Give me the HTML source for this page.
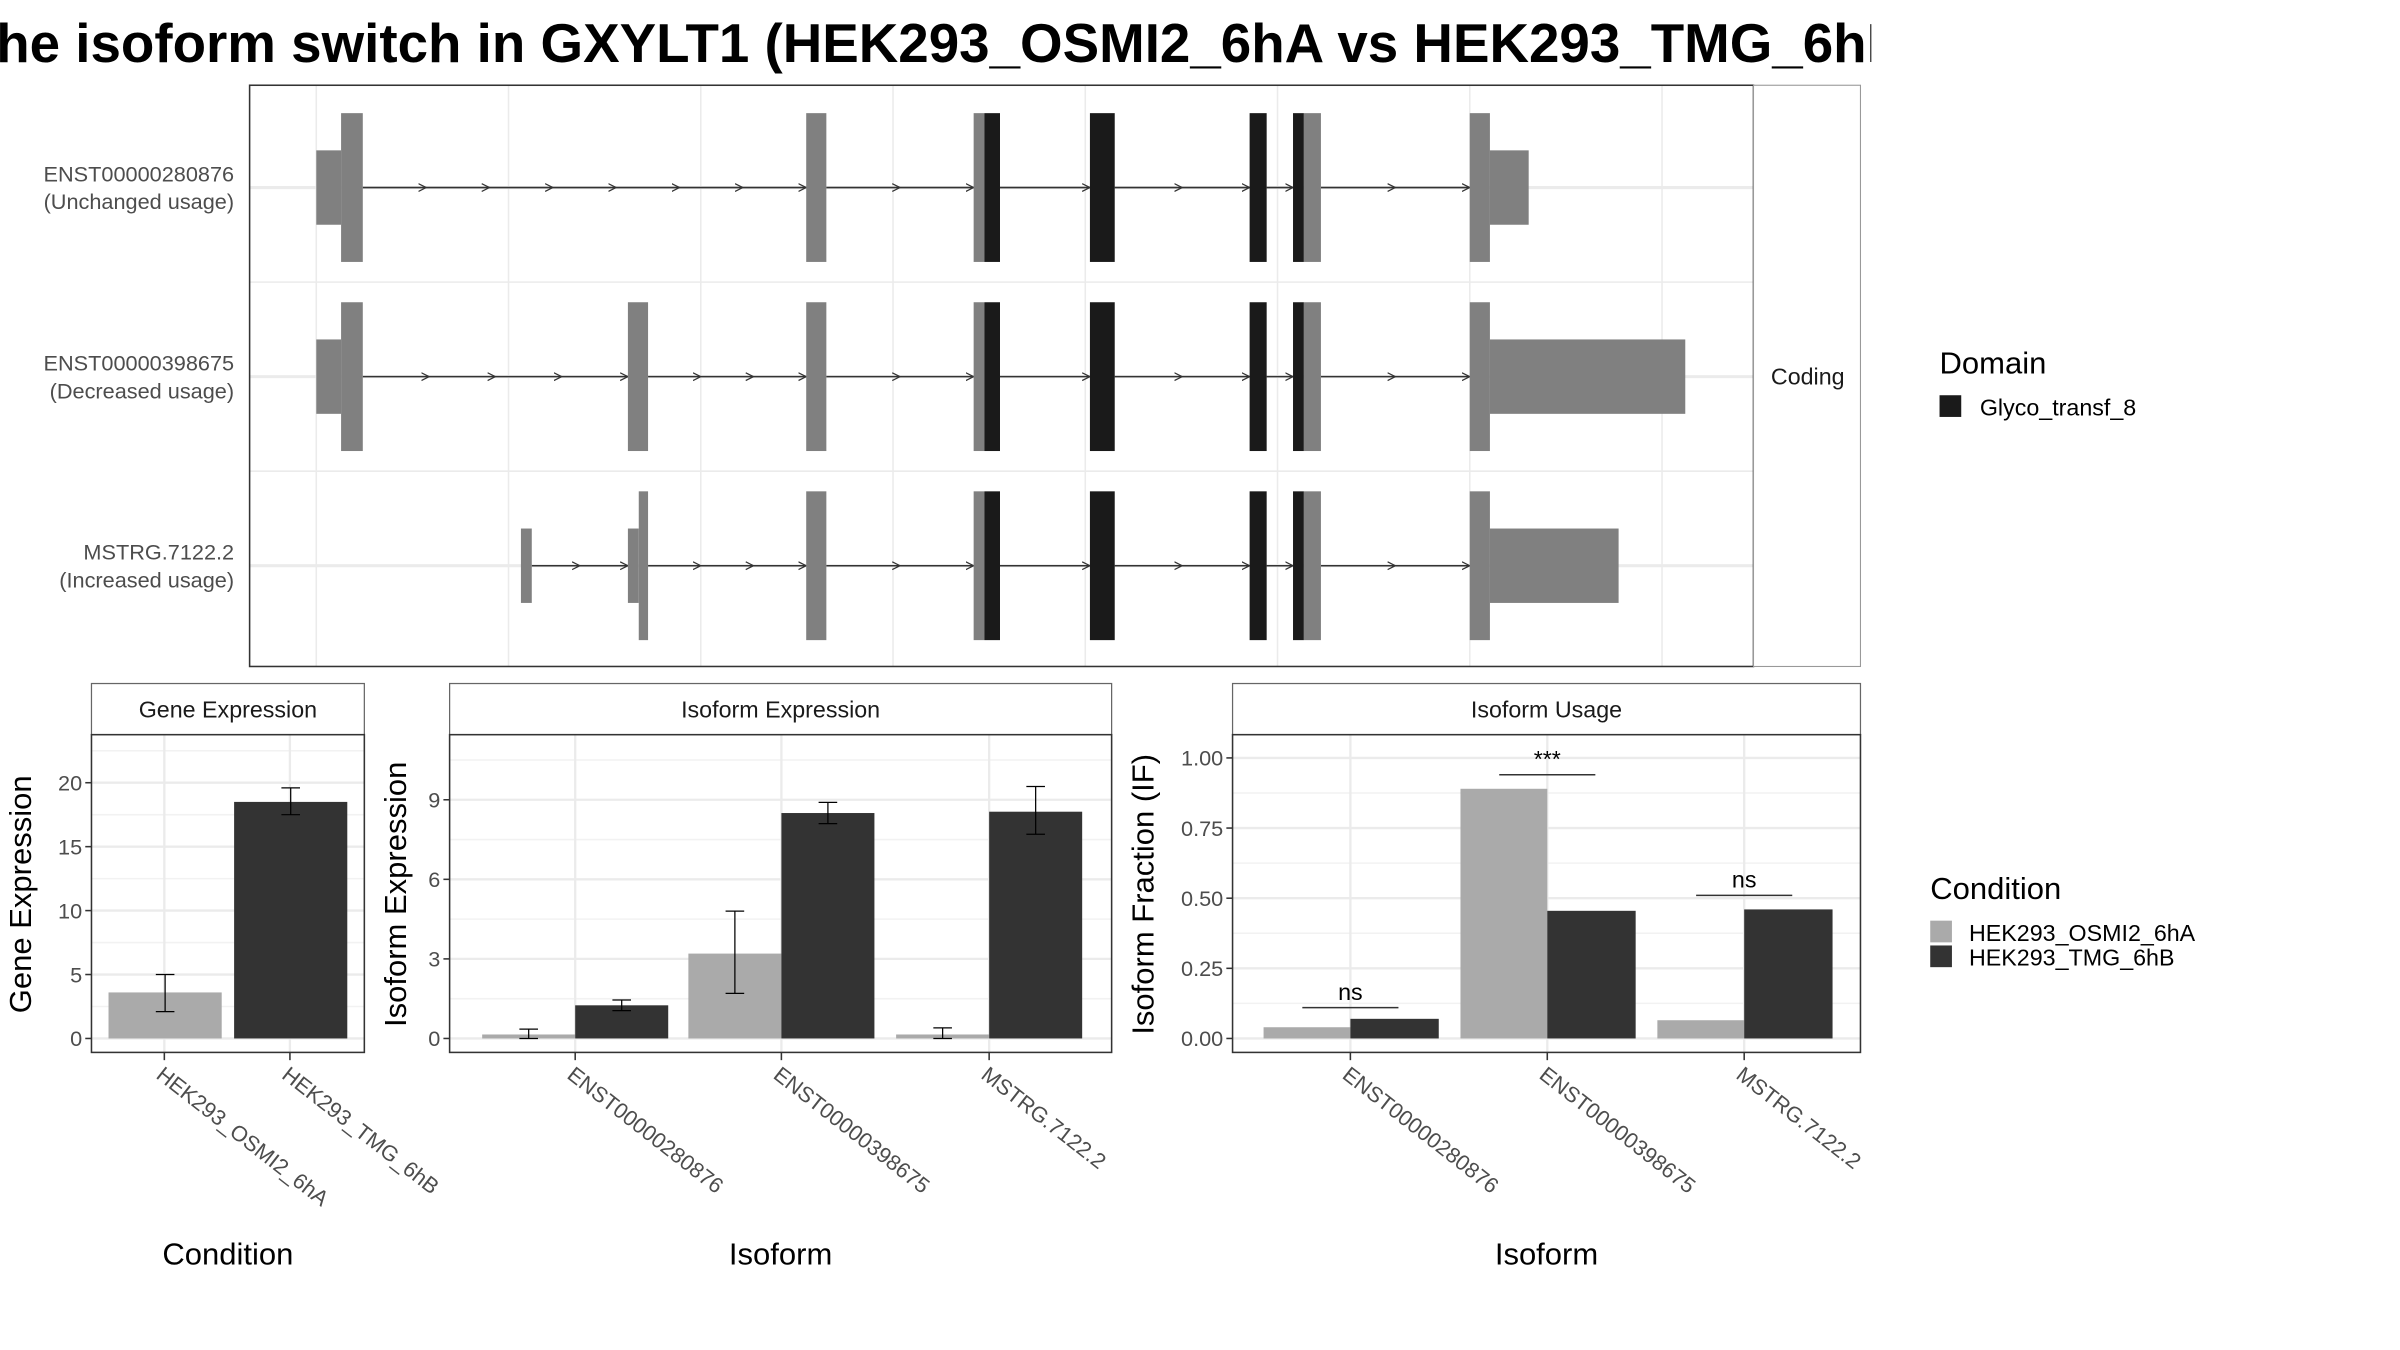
<!DOCTYPE html>
<html><head><meta charset="utf-8"><style>
html,body{margin:0;padding:0;background:#fff;width:2400px;height:1350px;overflow:hidden}
svg{display:block}
text{font-family:"Liberation Sans",sans-serif}
.tick{font-size:14px;fill:#4d4d4d}
.strip{font-size:15px;fill:#1a1a1a}
.ttl{font-size:20px;fill:#000}
</style></head><body>
<svg id="fig" width="2400" height="1350" viewBox="0 0 1548 871" preserveAspectRatio="none" xmlns="http://www.w3.org/2000/svg">
<defs><clipPath id="tc"><rect x="0" y="0" width="1207" height="60"/></clipPath>
<marker id="arr" markerWidth="6" markerHeight="6" refX="5" refY="3" orient="auto"><path d="M0,0.5 L5,3 L0,5.5" fill="none" stroke="#333" stroke-width="0.8"/></marker></defs>
<rect width="1548" height="871" fill="#fff"/>
<g clip-path="url(#tc)"><text x="-24" y="40" font-size="35.3" font-weight="bold" fill="#000">The isoform switch in GXYLT1 (HEK293_OSMI2_6hA vs HEK293_TMG_6hB)</text></g>
<g id="topPanel"></g>
<g id="bars"></g>
<g>
<text x="1251" y="241" class="ttl">Domain</text>
<rect x="1251" y="255" width="14" height="14" fill="#1a1a1a"/>
<text x="1277" y="268" font-size="15">Glyco_transf_8</text>
</g>
<g>
<text x="1245" y="580" class="ttl">Condition</text>
<rect x="1245" y="594" width="14" height="14" fill="#aaaaaa"/>
<rect x="1245" y="610" width="14" height="14" fill="#333333"/>
<text x="1270" y="607" font-size="15">HEK293_OSMI2_6hA</text>
<text x="1270" y="623" font-size="15">HEK293_TMG_6hB</text>
</g>
</svg>
<script>
const txNames = ["ENST00000280876","ENST00000398675","MSTRG.7122.2"];
const txUsage = ["(Unchanged usage)","(Decreased usage)","(Increased usage)"];
const commonTail = [[520,533,"g"],[628,635,"g"],[635,645,"d"],[703,719,"d"],[806,817,"d"],[834,841,"d"],[841,852,"g"],[948,961,"g"]];
const tx1 = [[204,220,"u"],[220,234,"g"]].concat(commonTail,[[961,986,"u"]]);
const tx2 = [[204,220,"u"],[220,234,"g"],[405,418,"g"]].concat(commonTail,[[961,1087,"u"]]);
const tx3 = [[336,343,"u"],[405,412,"u"],[412,418,"g"]].concat(commonTail,[[961,1044,"u"]]);
const txExons = [tx1,tx2,tx3];

const geneCats = ["HEK293_OSMI2_6hA","HEK293_TMG_6hB"];
const geneVals = [3.6,18.5];
const geneLo = [2.1,17.5];
const geneHi = [5.0,19.6];
const geneTicks = [0,5,10,15,20];

const isoCats = ["ENST00000280876","ENST00000398675","MSTRG.7122.2"];
const isoExpA = [0.15,3.2,0.15];
const isoExpB = [1.25,8.5,8.55];
const isoExpALo = [0,1.7,0];
const isoExpAHi = [0.35,4.8,0.4];
const isoExpBLo = [1.05,8.1,7.7];
const isoExpBHi = [1.45,8.9,9.5];
const isoExpTicks = [0,3,6,9];

const ifA = [0.04,0.89,0.065];
const ifB = [0.07,0.455,0.46];
const ifTicks = [0,0.25,0.5,0.75,1.0];
const ifTickLabels = ["0.00","0.25","0.50","0.75","1.00"];
const sigLabels = ["ns","***","ns"];
const sigY = [0.11,0.94,0.51];

const SVGNS="http://www.w3.org/2000/svg";
function mk(tag,attrs,parent,txt){const e=document.createElementNS(SVGNS,tag);for(const k in attrs)e.setAttribute(k,attrs[k]);if(txt!==undefined)e.textContent=txt;parent.appendChild(e);return e;}

const topG=document.getElementById('topPanel');
mk('rect',{x:161,y:55,width:970,height:375,fill:'#fff'},topG);
[204,328,452,576,700,824,948,1072].forEach(x=>mk('line',{x1:x,x2:x,y1:55,y2:430,stroke:'#ebebeb','stroke-width':1},topG));
[182,304].forEach(y=>mk('line',{x1:161,x2:1131,y1:y,y2:y,stroke:'#ebebeb','stroke-width':1},topG));
const rowY=i=>121+i*122;
txExons.forEach((ex,i)=>{
  const cy=rowY(i);
  mk('line',{x1:161,x2:1131,y1:cy,y2:cy,stroke:'#ebebeb','stroke-width':2},topG);
  for(let k=0;k<ex.length-1;k++){
    const a=ex[k][1],b=ex[k+1][0];
    if(b-a>2){
      const n=Math.max(1,Math.round((b-a)/40));
      let pts=[];for(let j=0;j<=n;j++)pts.push((a+(b-a)*j/n).toFixed(1)+','+cy);
      const pl=mk('polyline',{points:pts.join(' '),fill:'none',stroke:'#333','stroke-width':1,'marker-mid':'url(#arr)','marker-end':'url(#arr)'},topG);
      
      
    }
  }
  ex.forEach(s=>{
    const h=s[2]==='u'?24:48;
    const r=mk('rect',{x:s[0],y:cy-h,width:s[1]-s[0],height:2*h,fill:s[2]==='d'?'#1a1a1a':'#808080'},topG);
    
    
  });
  const t1=mk('text',{x:151,y:cy-4,'text-anchor':'end',class:'tick','font-size':15},topG,txNames[i]);
  
  
  mk('text',{x:151,y:cy+14,'text-anchor':'end',class:'tick','font-size':15},topG,txUsage[i]);
});
mk('rect',{x:161,y:55,width:970,height:375,fill:'none',stroke:'#333','stroke-width':1},topG);
mk('rect',{x:1131,y:55,width:69,height:375,fill:'#fff',stroke:'#999','stroke-width':0.7},topG);
mk('text',{x:1166,y:248,'text-anchor':'middle',class:'strip'},topG,'Coding');

const B=document.getElementById('bars');
function panel(o){
  const g=mk('g',{},B);
  
  
  const y=v=>o.y0-(v/o.max)*(o.y0-o.yTop);
  mk('rect',{x:o.x0,y:441,width:o.x1-o.x0,height:33,fill:'#fff',stroke:'#666','stroke-width':0.8},g);
  mk('text',{x:(o.x0+o.x1)/2,y:463,'text-anchor':'middle',class:'strip'},g,o.title);
  mk('rect',{x:o.x0,y:474,width:o.x1-o.x0,height:205,fill:'#fff'},g);
  for(let i=0;i<o.ticks.length-1;i++){const m=(o.ticks[i]+o.ticks[i+1])/2;mk('line',{x1:o.x0,x2:o.x1,y1:y(m),y2:y(m),stroke:'#f2f2f2','stroke-width':1},g);}
  const top2=o.ticks[o.ticks.length-1]+(o.ticks[1]-o.ticks[0])/2; if(y(top2)>474) mk('line',{x1:o.x0,x2:o.x1,y1:y(top2),y2:y(top2),stroke:'#f2f2f2','stroke-width':1},g);
  o.ticks.forEach((t,i)=>{
    mk('line',{x1:o.x0,x2:o.x1,y1:y(t),y2:y(t),stroke:'#ebebeb','stroke-width':1.5},g);
    mk('line',{x1:o.x0-4,x2:o.x0,y1:y(t),y2:y(t),stroke:'#333'},g);
    const tl=mk('text',{x:o.x0-6,y:y(t)+5,'text-anchor':'end',class:'tick'},g,o.tickLabels?o.tickLabels[i]:String(t));
    
    
  });
  o.centers.forEach(c=>mk('line',{x1:c,x2:c,y1:474,y2:679,stroke:'#ebebeb','stroke-width':1.5},g));
  o.series.forEach(s=>{
    s.vals.forEach((v,i)=>{
      const x=o.centers[i]+(s.offs?s.offs[i]:s.off);
      const col=s.colors?s.colors[i]:s.color;
      const r=mk('rect',{x:x,y:y(v),width:s.w,height:o.y0-y(v),fill:col},g);
      
      
      if(s.lo){const cx=x+s.w/2;const e=mk('path',{d:`M${cx-6},${y(s.hi[i])}H${cx+6}M${cx},${y(s.hi[i])}V${y(s.lo[i])}M${cx-6},${y(s.lo[i])}H${cx+6}`,stroke:'#000','stroke-width':0.8,fill:'none'},g);
        
        }
    });
  });
  if(o.sig){o.centers.forEach((c,i)=>{mk('line',{x1:c-31,x2:c+31,y1:y(sigY[i]),y2:y(sigY[i]),stroke:'#333'},g);
    const st=mk('text',{x:c,y:y(sigY[i])-5,'text-anchor':'middle','font-size':15},g,sigLabels[i]);
    
    });}
  mk('rect',{x:o.x0,y:474,width:o.x1-o.x0,height:205,fill:'none',stroke:'#333'},g);
  o.centers.forEach((c,i)=>{
    mk('line',{x1:c,x2:c,y1:679,y2:684,stroke:'#333'},g);
    const t=mk('text',{x:c-6,y:695,class:'tick','font-size':15,transform:`rotate(38 ${c-6} 695)`},g,o.cats[i]);
    
    
  });
  const yt=mk('text',{x:o.ytx,y:577,'text-anchor':'middle',class:'ttl','font-size':19,transform:`rotate(-90 ${o.ytx} 577)`},g,o.ytitle);
  
  
  const xt=mk('text',{x:(o.x0+o.x1)/2,y:816,'text-anchor':'middle',class:'ttl'},g,o.xtitle);
  
  
}
panel({name:'gene-expression-panel',x0:59,x1:235,y0:670,yTop:505,max:20,ticks:geneTicks,title:'Gene Expression',cats:geneCats,centers:[106,187],
  series:[{key:'value',vals:geneVals,lo:geneLo,hi:geneHi,colors:['#aaaaaa','#333333'],offs:[-36,-36],w:73}],ytitle:'Gene Expression',ytx:20,xtitle:'Condition'});
panel({name:'isoform-expression-panel',x0:290,x1:717,y0:670,yTop:516,max:9,ticks:isoExpTicks,title:'Isoform Expression',cats:isoCats,centers:[371,504,638],
  series:[{key:'osmi2',vals:isoExpA,lo:isoExpALo,hi:isoExpAHi,color:'#aaaaaa',off:-60,w:60},{key:'tmg',vals:isoExpB,lo:isoExpBLo,hi:isoExpBHi,color:'#333333',off:0,w:60}],ytitle:'Isoform Expression',ytx:262,xtitle:'Isoform'});
panel({name:'isoform-usage-panel',x0:795,x1:1200,y0:670,yTop:489,max:1,ticks:ifTicks,tickLabels:ifTickLabels,title:'Isoform Usage',cats:isoCats,centers:[871,998,1125],sig:true,
  series:[{key:'osmi2',vals:ifA,color:'#aaaaaa',off:-56,w:56},{key:'tmg',vals:ifB,color:'#333333',off:0,w:57}],ytitle:'Isoform Fraction (IF)',ytx:744,xtitle:'Isoform'});
</script>
</body></html>
